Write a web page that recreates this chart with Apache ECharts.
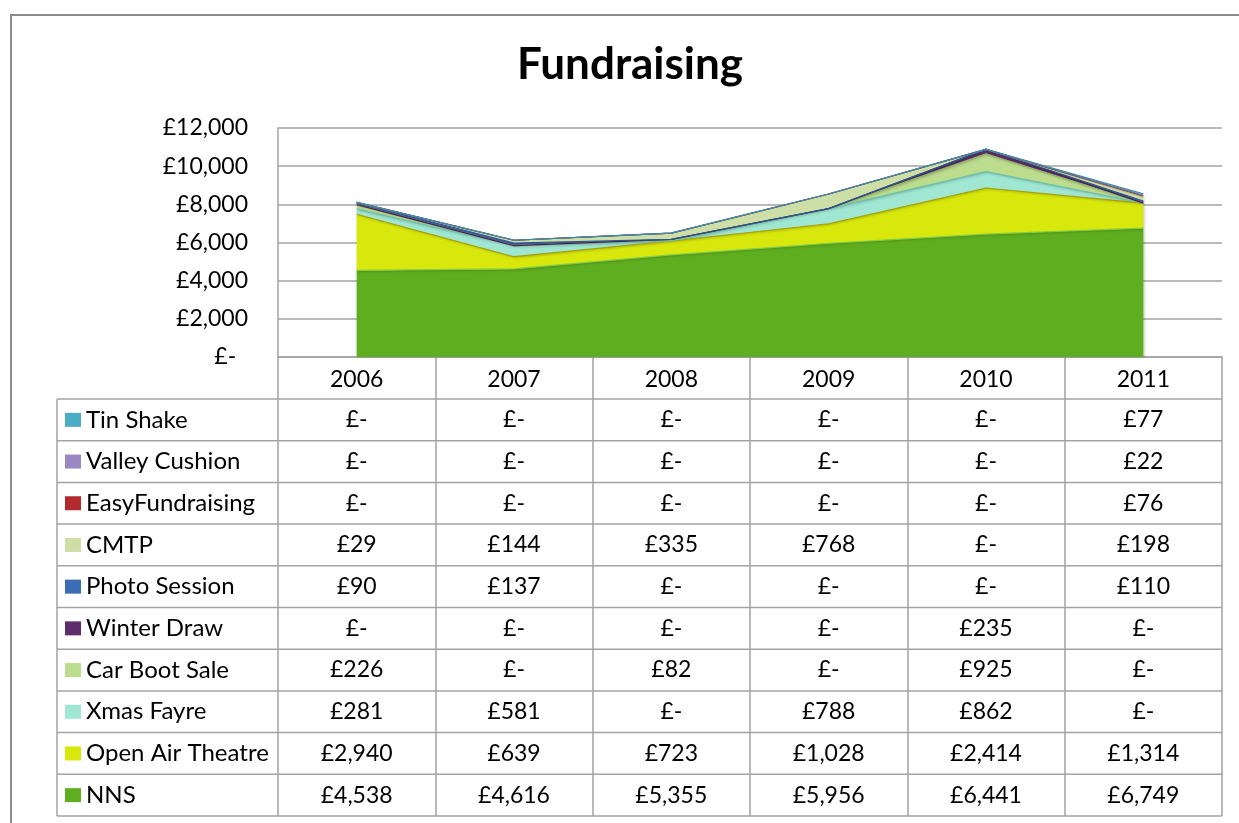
<!DOCTYPE html>
<html>
<head>
<meta charset="utf-8">
<script src="https://cdn.jsdelivr.net/npm/echarts@6/dist/echarts.min.js"></script>
<style>
html,body{margin:0;padding:0;background:#fff;}
#c{width:1239px;height:823px;}
</style>
</head>
<body>
<div id="c"></div>
<script>
// ---- data ----
const years = ['2006', '2007', '2008', '2009', '2010', '2011'];
// bottom of stack first
const seriesNames = ['NNS', 'Open Air Theatre', 'Xmas Fayre', 'Car Boot Sale', 'Winter Draw',
  'Photo Session', 'CMTP', 'EasyFundraising', 'Valley Cushion', 'Tin Shake'];
const nns            = [4538, 4616, 5355, 5956, 6441, 6749];
const openAirTheatre = [2940, 639, 723, 1028, 2414, 1314];
const xmasFayre      = [281, 581, 0, 788, 862, 0];
const carBootSale    = [226, 0, 82, 0, 925, 0];
const winterDraw     = [0, 0, 0, 0, 235, 0];
const photoSession   = [90, 137, 0, 0, 0, 110];
const cmtp           = [29, 144, 335, 768, 0, 198];
const easyFundraising= [0, 0, 0, 0, 0, 76];
const valleyCushion  = [0, 0, 0, 0, 0, 22];
const tinShake       = [0, 0, 0, 0, 0, 77];
const yTicks = [0, 2000, 4000, 6000, 8000, 10000, 12000];

const seriesValues = [nns, openAirTheatre, xmasFayre, carBootSale, winterDraw,
  photoSession, cmtp, easyFundraising, valleyCushion, tinShake];
const fills = ['#5fae1f', '#d9e80c', '#9fe6d3', '#bcdc8e', '#5c2d68',
  '#3b6db5', '#cddfa6', '#b2292e', '#9b87c2', '#4bacc6'];
const edges = ['#83cc45', '#a8a000', '#6cc2ab', '#93b865', '#4a1f55',
  '#2c558f', '#a6b97c', '#8a1e22', '#7a68a0', '#3a8ea6'];

const FONT = 'Lato';
const FS = 23;
const W = 1239, H = 823;
const G_LEFT = 278, G_RIGHT = 1222, G_TOP = 128, G_BOTTOM = 357;
const TABLE_TOP = 399, ROW_H = 41.7, TABLE_LEFT = 57;
const LINE_COLOR = '#a3a3a3';

function money(v) {
  if (!v) return '£-';
  return '£' + v.toString().replace(/\B(?=(\d{3})+(?!\d))/g, ',');
}

const chart = echarts.init(document.getElementById('c'), null, {renderer: 'canvas'});

const series = seriesNames.map((n, i) => ({
  name: n,
  type: 'line',
  stack: 'total',
  data: seriesValues[i],
  symbol: 'none',
  smooth: false,
  lineStyle: {color: edges[i], width: 1.2},
  itemStyle: {color: fills[i]},
  areaStyle: {color: fills[i], opacity: 1, shadowColor: 'rgba(0,0,0,0.25)', shadowBlur: 3, shadowOffsetX: 1, shadowOffsetY: 1},
  emphasis: {disabled: true},
  z: 2
}));

const nRows = seriesNames.length;

chart.setOption({
  animation: false,
  title: {
    text: 'Fundraising',
    left: 625,
    textAlign: 'center',
    top: 38,
    textStyle: {fontFamily: FONT, fontWeight: 'bold', fontSize: 44, color: '#000'}
  },
  grid: {left: G_LEFT, right: W - G_RIGHT, top: G_TOP, bottom: H - G_BOTTOM, containLabel: false},
  legend: {
    data: seriesNames.slice().reverse(),
    orient: 'vertical',
    left: TABLE_LEFT + 8,
    top: TABLE_TOP,
    height: ROW_H * nRows + 10,
    padding: 0,
    itemGap: 0,
    itemWidth: 16,
    itemHeight: 14,
    icon: 'rect',
    selectedMode: false,
    textStyle: {fontFamily: FONT, fontSize: 24, color: '#000', lineHeight: ROW_H}
  },
  xAxis: {
    type: 'category',
    data: years,
    boundaryGap: true,
    axisLine: {show: true, lineStyle: {color: LINE_COLOR, width: 1.5}},
    axisTick: {show: true, inside: false, length: TABLE_TOP + ROW_H * nRows - G_BOTTOM, lineStyle: {color: LINE_COLOR, width: 1.5}},
    axisLabel: {fontFamily: FONT, fontSize: FS, color: '#000', margin: 11},
    splitLine: {show: false}
  },
  yAxis: {
    type: 'value',
    min: yTicks[0],
    max: yTicks[yTicks.length - 1],
    interval: yTicks[1] - yTicks[0],
    axisLine: {show: true, lineStyle: {color: LINE_COLOR, width: 1.5}},
    axisTick: {show: false},
    axisLabel: {
      fontFamily: FONT, fontSize: FS, color: '#000', margin: 30,
      formatter: v => v === 0 ? '£-  ' : money(v)
    },
    splitLine: {show: true, lineStyle: {color: LINE_COLOR, width: 1.5}}
  },
  series: series
});

// ---- data table drawn from the arrays ----
const graphics = [];
// outer chart border
graphics.push({type: 'rect', shape: {x: 11, y: 15, width: W, height: H}, style: {fill: 'none', stroke: '#8c8c8c', lineWidth: 2}, silent: true, z: 0});
// horizontal row lines
for (let r = 0; r <= nRows; r++) {
  const y = TABLE_TOP + r * ROW_H;
  graphics.push({type: 'line', shape: {x1: TABLE_LEFT, y1: y, x2: G_RIGHT, y2: y},
    style: {stroke: LINE_COLOR, lineWidth: 1.5}, silent: true, z: 5});
}
// left vertical line of legend column
graphics.push({type: 'line', shape: {x1: TABLE_LEFT, y1: TABLE_TOP, x2: TABLE_LEFT, y2: TABLE_TOP + nRows * ROW_H},
  style: {stroke: LINE_COLOR, lineWidth: 1.5}, silent: true, z: 5});
// cell values
const tableOrder = seriesNames.map((n, i) => i).reverse();
tableOrder.forEach((si, r) => {
  const cy = TABLE_TOP + r * ROW_H + ROW_H / 2;
  years.forEach((yr, c) => {
    const cx = chart.convertToPixel({xAxisIndex: 0}, yr);
    graphics.push({type: 'text', x: cx, y: cy, silent: true, z: 6,
      style: {text: money(seriesValues[si][c]), fontFamily: FONT, fontSize: FS, fill: '#000',
        align: 'center', verticalAlign: 'middle'}});
  });
});
chart.setOption({graphic: graphics});
</script>
</body>
</html>
